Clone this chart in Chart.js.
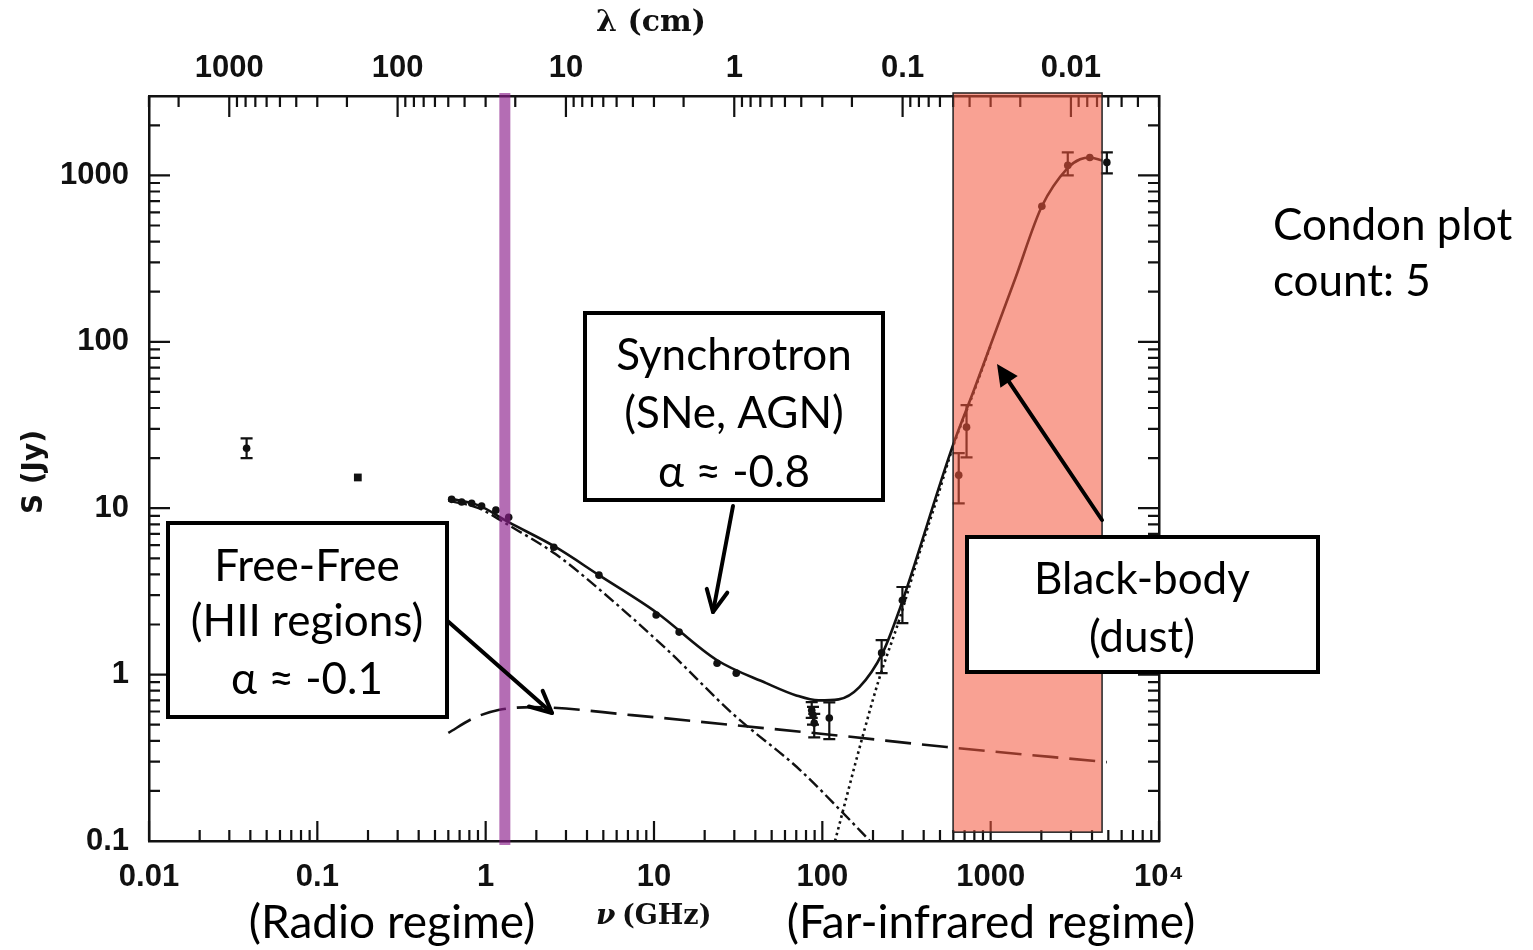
<!DOCTYPE html>
<html>
<head>
<meta charset="utf-8">
<script src="https://cdn.jsdelivr.net/npm/chart.js@4.4.1/dist/chart.umd.min.js"></script>
<style>
html,body{margin:0;padding:0;background:#fff;}
canvas{display:block;}
</style>
</head>
<body>
<canvas id="c" width="1533" height="950"></canvas>
<script>
// ---------------- data ----------------
const LIGHT_SPEED_GHZ_CM = 29.98;

const xTickValuesGHz = [0.01, 0.1, 1, 10, 100, 1000, 10000];
const xTickLabels = ['0.01', '0.1', '1', '10', '100', '1000', '10\u2074'];
const yTickValuesJy = [0.1, 1, 10, 100, 1000];
const yTickLabels = ['0.1', '1', '10', '100', '1000'];
const lambdaTickValuesCm = [1000, 100, 10, 1, 0.1, 0.01];
const lambdaTickLabels = ['1000', '100', '10', '1', '0.1', '0.01'];

// observed flux densities (GHz, Jy) with optional error bars
const obsFreqGHz   = [0.038, 0.174, 0.628, 0.72, 0.826, 0.946, 1.15, 1.37, 2.54, 4.71, 10.3, 14.1, 23.7, 30.8, 86.5, 88, 89.5, 110, 225, 299, 646, 719, 2014, 2871, 3880, 4900];
const obsFluxJy    = [22.9, 15.3, 11.3, 10.9, 10.7, 10.3, 9.73, 8.83, 5.83, 3.96, 2.28, 1.80, 1.17, 1.02, 0.61, 0.571, 0.511, 0.548, 1.35, 2.80, 15.8, 30.7, 652, 1148, 1282, 1197];
const obsErrLowJy  = [20.0, null, null, null, null, null, null, null, null, null, null, null, null, null, 0.55, 0.50, 0.42, 0.41, 1.02, 2.04, 10.7, 20.2, null, 1000, null, 1028];
const obsErrHighJy = [26.3, null, null, null, null, null, null, null, null, null, null, null, null, null, 0.684, 0.64, 0.58, 0.68, 1.61, 3.36, 21.4, 41.6, null, 1374, null, 1374];

// model: total
const totalFreqGHz = [0.60, 0.908, 1.37, 2.61, 4.71, 10.3, 23.7, 46.4, 70, 95, 125, 166, 228, 287, 598, 800, 1000, 1400, 2014, 2871, 3400, 3880, 4590];
const totalFluxJy  = [11.5, 10.4, 8.24, 5.83, 3.96, 2.37, 1.22, 0.889, 0.75, 0.70, 0.71, 0.841, 1.35, 2.45, 24, 52, 96, 240, 652, 1110, 1250, 1282, 1231];
// model: synchrotron (dash-dot)
const syncFreqGHz = [0.60, 0.908, 1.37, 2.6, 4.79, 11.97, 29.5, 73.8, 133, 192];
const syncFluxJy  = [11.1, 10.0, 7.9, 5.3, 3.22, 1.41, 0.579, 0.267, 0.147, 0.1];
// model: free-free (dashed)
const ffFreqGHz = [0.60, 0.849, 1.19, 1.88, 7.39, 29.1, 115, 547, 4900];
const ffFluxJy  = [0.446, 0.548, 0.612, 0.638, 0.571, 0.498, 0.434, 0.367, 0.298];
// model: dust (dotted)
const dustFreqGHz = [119, 173, 218, 287, 378, 477, 598, 800, 1000];
const dustFluxJy  = [0.1, 0.42, 0.95, 2.15, 5.4, 11.2, 23.5, 51, 95];

// highlighted regions
const radioBandGHz = 1.30;
const dustBandGHz = [598, 4590];
const dustBandFloorJy = 0.113;

// ---------------- helpers ----------------
const pts = (xs, ys) => xs.map((x, i) => ({x: x, y: ys[i]}));
const TICK_FONT = {family: '"Liberation Sans", Arial, sans-serif', size: 31, weight: 'bold'};
const INK = '#111';
const TEXT_FONT = 'Lato, "Open Sans", sans-serif';

function drawArrow(ctx, x1, y1, x2, y2, filled) {
  const a = Math.atan2(y2 - y1, x2 - x1);
  const L = 24, w = 0.45;
  ctx.beginPath();
  ctx.moveTo(x1, y1);
  if (filled) ctx.lineTo(x2 - Math.cos(a) * L * 0.8, y2 - Math.sin(a) * L * 0.8);
  else ctx.lineTo(x2, y2);
  ctx.stroke();
  ctx.beginPath();
  ctx.moveTo(x2 - L * Math.cos(a - w), y2 - L * Math.sin(a - w));
  ctx.lineTo(x2, y2);
  ctx.lineTo(x2 - L * Math.cos(a + w), y2 - L * Math.sin(a + w));
  if (filled) { ctx.closePath(); ctx.fill(); } else ctx.stroke();
}

function textBox(ctx, l, t, r, b, lines, cx, baselines) {
  ctx.fillStyle = '#fff';
  ctx.fillRect(l, t, r - l, b - t);
  ctx.lineWidth = 4;
  ctx.strokeStyle = '#000';
  ctx.strokeRect(l, t, r - l, b - t);
  ctx.fillStyle = '#000';
  ctx.textAlign = 'center';
  ctx.textBaseline = 'alphabetic';
  ctx.font = '44px ' + TEXT_FONT;
  lines.forEach((s, i) => ctx.fillText(s, cx, baselines[i]));
}

const overlayPlugin = {
  id: 'overlay',
  afterDraw(chart) {
    const ctx = chart.ctx;
    const xs = chart.scales.x, ys = chart.scales.y;
    const ca = chart.chartArea;
    ctx.save();

    // error bars
    ctx.strokeStyle = INK;
    ctx.lineWidth = 2.2;
    obsFreqGHz.forEach((f, i) => {
      if (obsErrLowJy[i] == null) return;
      const px = xs.getPixelForValue(f);
      const y1 = ys.getPixelForValue(obsErrLowJy[i]);
      const y2 = ys.getPixelForValue(obsErrHighJy[i]);
      ctx.beginPath();
      ctx.moveTo(px, y1); ctx.lineTo(px, y2);
      ctx.moveTo(px - 6, y1); ctx.lineTo(px + 6, y1);
      ctx.moveTo(px - 6, y2); ctx.lineTo(px + 6, y2);
      ctx.stroke();
    });

    // inward tick marks on all four sides
    ctx.lineWidth = 2.2;
    ctx.beginPath();
    for (let e = -2; e <= 4; e++) {
      for (let k = 1; k <= 9; k++) {
        const v = k * Math.pow(10, e);
        if (v < 0.0099 || v > 10001) continue;
        const px = xs.getPixelForValue(v);
        const len = k === 1 ? 20 : 11;
        ctx.moveTo(px, ca.bottom); ctx.lineTo(px, ca.bottom - len);
      }
    }
    for (let e = -3; e <= 4; e++) {
      for (let k = 1; k <= 9; k++) {
        const lam = k * Math.pow(10, e);
        const v = LIGHT_SPEED_GHZ_CM / lam;
        if (v < 0.0099 || v > 10001) continue;
        const px = xs.getPixelForValue(v);
        const len = k === 1 ? 21 : 11;
        ctx.moveTo(px, ca.top); ctx.lineTo(px, ca.top + len);
      }
    }
    for (let e = -1; e <= 3; e++) {
      for (let k = 1; k <= 9; k++) {
        const v = k * Math.pow(10, e);
        if (v < 0.099 || v > 3001) continue;
        const py = ys.getPixelForValue(v);
        const len = k === 1 ? 21 : 11;
        ctx.moveTo(ca.left, py); ctx.lineTo(ca.left + len, py);
        ctx.moveTo(ca.right, py); ctx.lineTo(ca.right - len, py);
      }
    }
    ctx.stroke();

    // dust (far-infrared) band
    const bl = xs.getPixelForValue(dustBandGHz[0]);
    const br = xs.getPixelForValue(dustBandGHz[1]);
    const bb = ys.getPixelForValue(dustBandFloorJy);
    const bt = ca.top - 3;
    ctx.fillStyle = 'rgba(245, 88, 62, 0.56)';
    ctx.fillRect(bl, bt, br - bl, bb - bt);
    ctx.lineWidth = 1.5;
    ctx.strokeStyle = '#222';
    ctx.strokeRect(bl, bt, br - bl, bb - bt);

    // radio band (purple line)
    const rp = xs.getPixelForValue(radioBandGHz);
    ctx.fillStyle = 'rgba(140, 30, 140, 0.65)';
    ctx.fillRect(rp - 5.5, ca.top - 3, 11, ca.bottom - ca.top + 7);

    // arrows
    ctx.strokeStyle = '#000';
    ctx.fillStyle = '#000';
    ctx.lineWidth = 4;
    ctx.lineCap = 'round';
    ctx.lineJoin = 'round';
    drawArrow(ctx, 733, 506, 713, 612, false);
    drawArrow(ctx, 443, 617, 552, 713, false);
    drawArrow(ctx, 1102, 520, 997, 364, true);
    ctx.lineCap = 'butt';
    ctx.lineJoin = 'miter';

    // annotation boxes
    textBox(ctx, 585, 313, 883, 500, ['Synchrotron', '(SNe, AGN)', '\u03b1 \u2248 -0.8'], 734, [370, 428, 487]);
    textBox(ctx, 168, 523, 447, 717, ['Free-Free', '(HII regions)', '\u03b1 \u2248 -0.1'], 307, [581, 636, 694]);
    textBox(ctx, 967, 537, 1318, 672, ['Black-body', '(dust)'], 1142, [594, 652]);

    // regime labels and side note
    ctx.fillStyle = '#000';
    ctx.font = '46px ' + TEXT_FONT;
    ctx.textAlign = 'center';
    ctx.fillText('(Radio regime)', 392, 938);
    ctx.fillText('(Far-infrared regime)', 991, 938);
    ctx.textAlign = 'left';
    ctx.font = '44px ' + TEXT_FONT;
    ctx.fillText('Condon plot', 1273, 240);
    ctx.fillText('count: 5', 1273, 296);

    // axis titles
    ctx.fillStyle = INK;
    ctx.textAlign = 'center';
    ctx.textBaseline = 'middle';
    ctx.font = 'bold 30px "DejaVu Serif", serif';
    ctx.fillText('\u03bb (cm)', 651, 23);
    // nu (GHz)
    ctx.font = 'italic bold 28px "DejaVu Serif", serif';
    ctx.textAlign = 'left';
    ctx.fillText('\u03bd', 596, 917);
    ctx.font = 'bold 27px "DejaVu Serif", serif';
    ctx.fillText('(GHz)', 622, 917);
    // S (Jy)
    ctx.save();
    ctx.translate(35, 472);
    ctx.rotate(-Math.PI / 2);
    ctx.textAlign = 'center';
    ctx.font = 'bold 28px "DejaVu Sans", sans-serif';
    ctx.fillText('S (Jy)', 0, 0);
    ctx.restore();

    ctx.restore();
  }
};

const logAxisCommon = {
  type: 'logarithmic',
  grid: {display: false, drawTicks: false},
  border: {display: true, color: INK, width: 2.5},
};

new Chart(document.getElementById('c').getContext('2d'), {
  type: 'scatter',
  data: {
    datasets: [
      {label: 'total', type: 'line', data: pts(totalFreqGHz, totalFluxJy), borderColor: INK, borderWidth: 2.6,
       pointRadius: 0, cubicInterpolationMode: 'monotone', fill: false},
      {label: 'synchrotron', type: 'line', data: pts(syncFreqGHz, syncFluxJy), borderColor: INK, borderWidth: 2.4,
       borderDash: [12, 4, 3, 4], pointRadius: 0, cubicInterpolationMode: 'monotone', fill: false},
      {label: 'free-free', type: 'line', data: pts(ffFreqGHz, ffFluxJy), borderColor: INK, borderWidth: 2.6,
       borderDash: [26, 11], pointRadius: 0, cubicInterpolationMode: 'monotone', fill: false},
      {label: 'dust', type: 'line', data: pts(dustFreqGHz, dustFluxJy), borderColor: INK, borderWidth: 2.6,
       borderDash: [2.5, 3.5], pointRadius: 0, cubicInterpolationMode: 'monotone', fill: false},
      {label: 'observed', data: pts(obsFreqGHz, obsFluxJy), backgroundColor: INK, borderColor: INK, borderWidth: 0,
       pointRadius: ctx => ctx.dataIndex === 1 ? 5.5 : 3.8,
       pointStyle: ctx => ctx.dataIndex === 1 ? 'rect' : 'circle', showLine: false}
    ]
  },
  options: {
    responsive: false,
    animation: false,
    devicePixelRatio: 1,
    layout: {padding: 0},
    plugins: {legend: {display: false}, tooltip: {enabled: false}},
    scales: {
      x: Object.assign({}, logAxisCommon, {
        position: 'bottom', min: 0.01, max: 10000,
        afterBuildTicks: s => { s.ticks = xTickValuesGHz.map(v => ({value: v})); },
        afterFit: s => { s.height = 109; },
        ticks: {autoSkip: false, maxRotation: 0, padding: 18, font: TICK_FONT, color: INK,
                callback: (v, i) => xTickLabels[i]}
      }),
      xTop: Object.assign({}, logAxisCommon, {
        position: 'top', min: 0.01, max: 10000,
        afterBuildTicks: s => { s.ticks = lambdaTickValuesCm.map(l => ({value: LIGHT_SPEED_GHZ_CM / l})); },
        afterFit: s => { s.height = 96; },
        ticks: {autoSkip: false, maxRotation: 0, padding: 9, font: TICK_FONT, color: INK,
                callback: (v, i) => lambdaTickLabels[i]}
      }),
      y: Object.assign({}, logAxisCommon, {
        position: 'left', min: 0.1, max: 3000,
        afterBuildTicks: s => { s.ticks = yTickValuesJy.map(v => ({value: v})); },
        afterFit: s => { s.width = 149; },
        ticks: {autoSkip: false, padding: 20, font: TICK_FONT, color: INK,
                callback: (v, i) => yTickLabels[i]}
      }),
      yRight: Object.assign({}, logAxisCommon, {
        position: 'right', min: 0.1, max: 3000,
        afterFit: s => { s.width = 374; },
        ticks: {display: false}
      })
    }
  },
  plugins: [overlayPlugin]
});
</script>
</body>
</html>
